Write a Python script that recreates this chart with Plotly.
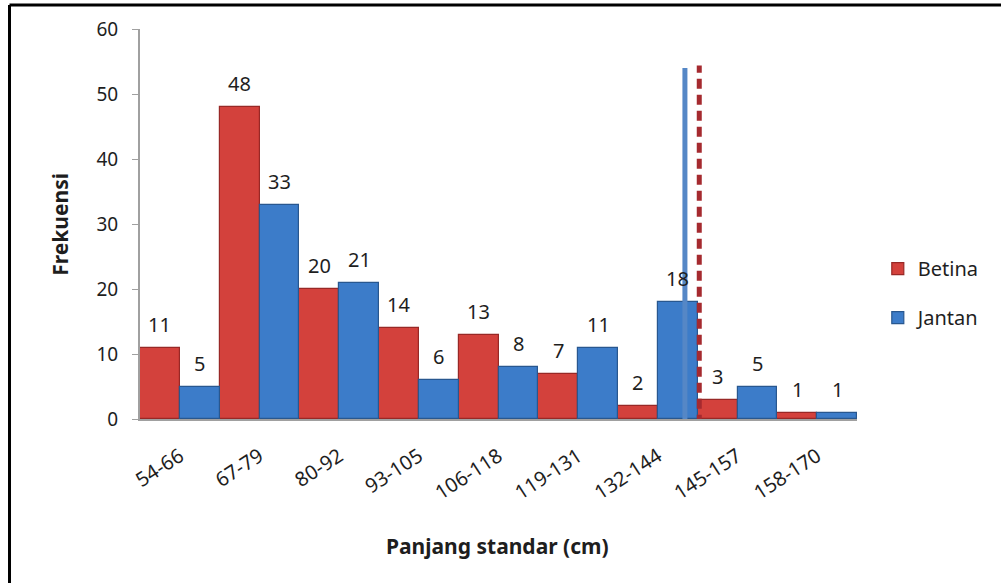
import plotly.graph_objects as go

# Size classes (standard length, cm) and frequencies per sex
categories = ["54-66", "67-79", "80-92", "93-105", "106-118",
              "119-131", "132-144", "145-157", "158-170"]
betina = [11, 48, 20, 14, 13, 7, 2, 3, 1]
jantan = [5, 33, 21, 6, 8, 11, 18, 5, 1]

# Length at first maturity markers, on the class-index scale
lm_jantan_x = [6.34, 6.34]
lm_jantan_y = [-0.6, 54.0]
lm_betina_x = [6.52, 6.52]
lm_betina_y = [-0.9, 54.4]

x_idx = list(range(len(categories)))
BAR_W = 0.5  # each sex takes half of a class slot

RED = "#D3413C"
RED_EDGE = "#982826"
BLUE = "#3C7CC9"
BLUE_EDGE = "#28578F"
TXT = "#1E1E1E"
FONT = "Noto Sans"

fig = go.Figure()

fig.add_trace(go.Bar(
    x=x_idx, y=betina, name="Betina", legendgroup="b",
    marker=dict(color=RED, line=dict(color=RED_EDGE, width=1.2)),
))
fig.add_trace(go.Bar(
    x=x_idx, y=jantan, name="Jantan", legendgroup="j",
    marker=dict(color=BLUE, line=dict(color=BLUE_EDGE, width=1.2)),
))

fig.add_trace(go.Scatter(
    x=lm_jantan_x, y=lm_jantan_y, mode="lines", showlegend=False,
    line=dict(color="#5587C6", width=5), cliponaxis=False, hoverinfo="skip",
))
fig.add_trace(go.Scatter(
    x=lm_betina_x, y=lm_betina_y, mode="lines", showlegend=False,
    line=dict(color="#A52A2F", width=5, dash="10px,6px"), cliponaxis=False,
    hoverinfo="skip",
))

# Value labels above each bar
annotations = []
for series, shift in ((betina, -BAR_W / 2), (jantan, BAR_W / 2)):
    for i, v in zip(x_idx, series):
        annotations.append(dict(
            x=i + shift, y=v, xref="x", yref="y", text=str(v),
            showarrow=False, xanchor="center", yanchor="bottom", yshift=8,
            font=dict(size=20, color=TXT, family=FONT),
        ))

annotations += [
    dict(text="<b>Frekuensi</b>", xref="paper", yref="paper",
         x=-0.112, y=0.5, xanchor="center", yanchor="middle",
         textangle=-90, showarrow=False,
         font=dict(size=21, color=TXT, family=FONT)),
    dict(text="<b>Panjang standar (cm)</b>", xref="paper", yref="paper",
         x=0.498, y=-0.325, xanchor="center", yanchor="middle",
         showarrow=False, font=dict(size=21, color=TXT, family=FONT)),
]

fig.update_layout(
    width=1001, height=583,
    margin=dict(l=140, r=144, t=29, b=164),
    paper_bgcolor="white", plot_bgcolor="white",
    barmode="group", bargap=0.0, bargroupgap=0.0,
    font=dict(family=FONT, color=TXT),
    showlegend=True,
    legend=dict(
        x=1.029, y=0.323, xanchor="left", yanchor="middle",
        font=dict(size=20, color=TXT, family=FONT),
        tracegroupgap=20, bgcolor="rgba(0,0,0,0)",
    ),
    xaxis=dict(
        range=[-0.5, len(categories) - 0.5],
        tickmode="array", tickvals=x_idx, ticktext=categories,
        tickangle=-33, tickfont=dict(size=20, color=TXT, family=FONT),
        ticklabelstandoff=16,
        showline=True, linecolor="#A0A0A0", linewidth=2,
        ticks="", showgrid=False, zeroline=False,
    ),
    yaxis=dict(
        range=[0, 60], tickvals=[0, 10, 20, 30, 40, 50, 60],
        tickfont=dict(size=19, color=TXT, family=FONT),
        ticklabelstandoff=10,
        showline=True, linecolor="#A0A0A0", linewidth=2,
        ticks="outside", ticklen=6, tickcolor="#A0A0A0",
        showgrid=False, zeroline=False,
    ),
    annotations=annotations,
    shapes=[
        dict(type="line", xref="paper", yref="paper",
             x0=-0.182, x1=1.25, y0=1.0617, y1=1.0617,
             line=dict(color="black", width=3)),
        dict(type="line", xref="paper", yref="paper",
             x0=-0.182, x1=-0.182, y0=1.0617, y1=-0.45,
             line=dict(color="black", width=3)),
    ],
)

fig.write_html("out.html")
